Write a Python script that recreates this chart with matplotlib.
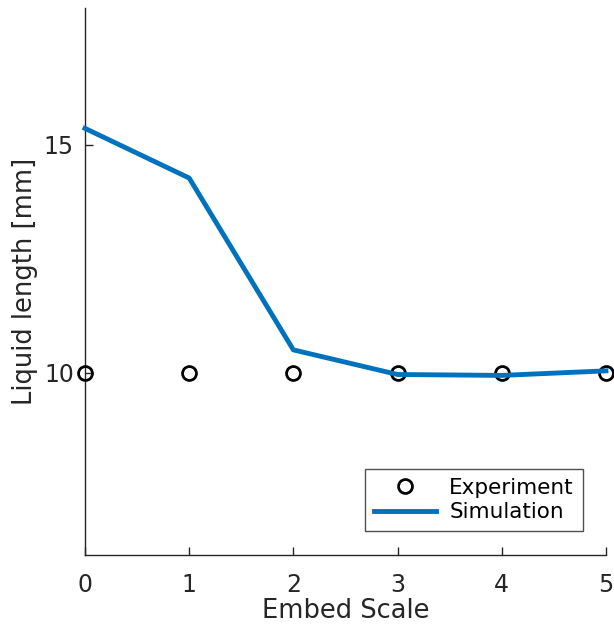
import matplotlib.pyplot as plt
import numpy as np

# Data
embed_scale = [0, 1, 2, 3, 4, 5]
experiment = [10, 10, 10, 10, 10, 10]
simulation = [15.36, 14.27, 10.5, 9.96, 9.94, 10.04]

plt.rcParams['font.family'] = ['DejaVu Sans']
text_color = '#262626'

fig = plt.figure(figsize=(6.14, 6.26), dpi=100)
ax = fig.add_axes([0.1384, 0.1134, 0.8485, 0.8738])

ax.plot(embed_scale, experiment, 'o', markersize=10, markerfacecolor='none',
        markeredgecolor='black', markeredgewidth=2, label='Experiment',
        clip_on=False, zorder=3)
ax.plot(embed_scale, simulation, color='#0072BD', linewidth=3.5,
        label='Simulation', clip_on=False, zorder=4)

ax.set_xlim(0, 5)
ax.set_ylim(6, 18)
ax.set_xticks([0, 1, 2, 3, 4, 5])
ax.set_yticks([10, 15])

ax.spines['top'].set_visible(False)
ax.spines['right'].set_visible(False)
for s in ['left', 'bottom']:
    ax.spines[s].set_color(text_color)
    ax.spines[s].set_linewidth(1)
ax.tick_params(direction='in', length=6, width=1, colors=text_color,
               labelsize=17)
ax.tick_params(axis='x', pad=13)
ax.tick_params(axis='y', pad=8)

ax.set_xlabel('Embed Scale', fontsize=18.5, color=text_color, labelpad=1)
ax.set_ylabel('Liquid length [mm]', fontsize=18.5, color=text_color, labelpad=4)

leg = ax.legend(loc='lower right', fontsize=15.5, frameon=True, fancybox=False,
                edgecolor=text_color, handlelength=2.9, borderaxespad=0,
                bbox_to_anchor=(0.955, 0.044), borderpad=0.4,
                labelspacing=0.2, handletextpad=0.6)
leg.get_frame().set_linewidth(1)

plt.savefig('out.png', dpi=100)
